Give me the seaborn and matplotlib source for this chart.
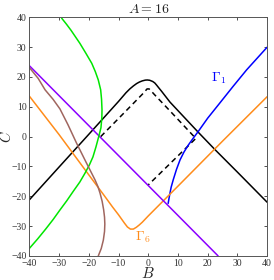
import numpy as np
import pandas as pd
import matplotlib
matplotlib.use("Agg")
import matplotlib.pyplot as plt
import seaborn as sns

# curves (B, C)
black_B = [-40, -30, -20.7, -10, -7.5, -6.2, -5, -3.9, -3, -2, -1, -0.3, 0.5, 1.5, 2.2, 2.8, 3.6, 4.5, 7.3, 12, 16.8, 22.4, 30, 40]
black_C = [-21.2, -10.2, 0, 11.8, 14.7, 16.0, 17.0, 17.8, 18.3, 18.7, 18.95, 19.0, 18.9, 18.5, 18.0, 17.3, 16.3, 15.2, 11.6, 6.6, 1.5, -4.3, -11.9, -22.0]

dash_B = [-16, -8, -2, -1, -0.4, 0.3, 1, 2, 8, 16, 0]
dash_C = [0, 8.1, 14.2, 15.3, 16.0, 16.0, 15.3, 14.2, 7.9, -0.6, -16.2]

blue_B = [6.7, 7.2, 7.7, 8.4, 9.5, 10.7, 12, 13.5, 15, 16.8, 20, 24.1, 28.5, 33.1, 40]
blue_C = [-22.4, -19.5, -17, -14.5, -11, -7.8, -5.2, -2.8, -0.7, 1.7, 6.2, 11.3, 16.8, 22.4, 30]

orange_B = [-40, -30, -20, -15, -12, -10, -9, -8, -7, -6, -5, -4, -3, -2, 0, 10, 25, 40]
orange_C = [13.6, 0.7, -12.8, -19.5, -23.6, -26.2, -27.6, -29.0, -30.3, -31.0, -31.0, -30.4, -29.6, -28.7, -26.6, -16.6, -1.5, 13.4]

purple_B = [-40, 23.5]
purple_C = [23.8, -40]

green_B = [-29.1, -27.5, -26, -24.5, -23, -21, -19, -17.8, -16.8, -16.0, -15.7, -15.55, -15.6, -15.9, -16.5, -17.6, -18.6, -19.8, -21.3, -23, -25.2, -27.4, -29.7, -32, -34.5, -37.2, -40]
green_C = [39.7, 37.7, 35.7, 33.5, 31.3, 28, 24.6, 21.8, 19, 15.7, 12.5, 9, 6.5, 3, 0.6, -3.5, -6.8, -9.5, -12.3, -15.2, -18.3, -21.5, -24.6, -27.8, -31, -34.3, -37.5]

brown_B = [-40, -37, -34.7, -32, -29.7, -27, -24.1, -21, -17.9, -16.9, -16.2, -15.5, -15.0, -14.7, -14.6, -14.7, -15.1, -15.8, -16.8]
brown_C = [23.2, 19.5, 15.7, 12.5, 9.3, 4, -2.2, -8.4, -14.5, -16.8, -19, -21.7, -24.5, -27, -29.3, -31.8, -34.7, -37.5, -40]

curves = [
    (black_B, black_C, "black", "-"),
    (dash_B, dash_C, "black", "--"),
    (blue_B, blue_C, "#0000FF", "-"),
    (orange_B, orange_C, "#FF8C1A", "-"),
    (purple_B, purple_C, "#8B00FF", "-"),
    (green_B, green_C, "#00E600", "-"),
    (brown_B, brown_C, "#A0665F", "-"),
]

sns.set_theme(style="white")
plt.rcParams["font.family"] = ["Liberation Serif", "DejaVu Serif"]
plt.rcParams["mathtext.fontset"] = "cm"

fig = plt.figure(figsize=(2.74, 2.80), dpi=100)
ax = fig.add_axes([0.107, 0.086, 0.868, 0.852])

for bb, cc, col, ls in curves:
    df = pd.DataFrame({"B": bb, "C": cc})
    sns.lineplot(data=df, x="B", y="C", sort=False, color=col, lw=1.1,
                 linestyle=ls, ax=ax, estimator=None)
ax.lines[1].set_dashes([3.5, 2.5])
for ln in ax.lines:
    ln.set_solid_joinstyle("round")

ax.text(23.8, 19.7, r"$\Gamma_1$", color="#0000FF", fontsize=10, ha="center", va="center")
ax.text(-1.9, -33.6, r"$\Gamma_6$", color="#FF8C1A", fontsize=10, ha="center", va="center")

ax.set_xlim(-40, 40)
ax.set_ylim(-40, 40)
ax.set_xticks(np.arange(-40, 41, 10))
ax.set_yticks(np.arange(-40, 41, 10))
ax.tick_params(direction="in", length=2.5, width=0.6, labelsize=7, pad=2,
               top=True, right=True, bottom=True, left=True, colors="#333333")
for s in ax.spines.values():
    s.set_color("#555555")
    s.set_linewidth(0.7)
ax.set_xlabel(r"$B$", fontsize=11, labelpad=-1)
ax.set_ylabel(r"$C$", fontsize=10.5)
ax.yaxis.set_label_coords(-0.064, 0.5)
ax.set_title(r"$A = 16$", fontsize=10, pad=3)

fig.savefig("out.png", dpi=100)
